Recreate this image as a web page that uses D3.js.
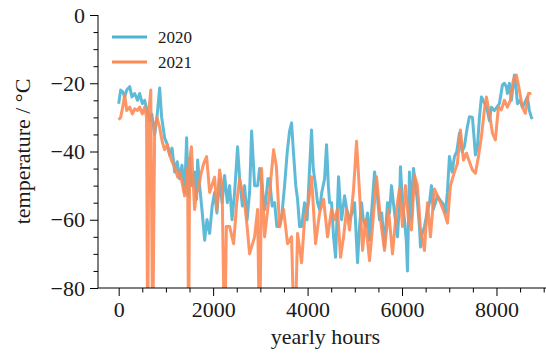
<!DOCTYPE html>
<html>
<head>
<meta charset="utf-8">
<script src="https://cdn.jsdelivr.net/npm/d3@7"></script>
<style>
  body { margin: 0; background: #fff; }
  svg text { font-family: "Liberation Serif", "DejaVu Serif", serif; fill: #1a1a1a; }
</style>
</head>
<body>
<div id="chart"></div>
<script>
// yearly hour / temperature pairs
var hours2020 = [0,21,42,85,127,170,233,280,339,400,444,500,550,600,656,700,762,810,868,910,973,1030,1079,1130,1185,1240,1291,1340,1397,1439,1470,1503,1550,1608,1650,1672,1714,1770,1820,1870,1926,1980,2031,2080,2137,2190,2243,2300,2349,2400,2455,2518,2561,2620,2667,2720,2772,2815,2878,2942,2984,3026,3090,3111,3160,3196,3250,3302,3350,3407,3460,3513,3570,3619,3661,3700,3750,3788,3831,3873,3936,3990,4042,4084,4120,4169,4210,4254,4300,4360,4402,4440,4466,4508,4550,4593,4656,4690,4720,4783,4830,4889,4940,4995,5020,5058,5100,5142,5180,5227,5270,5312,5370,5418,5470,5524,5570,5629,5693,5735,5777,5841,5904,5946,5967,6010,6052,6090,6115,6158,6200,6242,6290,6327,6369,6391,6430,6475,6530,6581,6623,6660,6708,6750,6793,6850,6898,6920,6960,7004,7060,7110,7160,7216,7270,7321,7380,7427,7491,7520,7554,7597,7639,7681,7745,7808,7850,7893,7956,8010,8062,8126,8168,8210,8231,8274,8316,8379,8420,8443,8500,8550,8591,8655,8697,8739,8760];
var temp2020 = [-26,-24,-22,-22.5,-24,-22,-21,-24,-23,-25,-23,-26,-25,-28,-31,-29,-35,-30,-21.4,-30,-36,-38,-41,-39,-46,-43,-48,-44,-52,-36,-53,-42,-50,-46,-54,-42.5,-50,-58,-66,-60,-64,-56,-52,-58,-48,-55,-47,-55,-50,-60,-52,-38.6,-48,-56,-50,-60,-52,-34,-50,-50,-45,-49,-57,-55,-48,-48,-56,-55,-62,-62,-58,-50,-40,-34,-31.6,-40,-50,-54,-62,-62,-55,-60,-45,-33.7,-45,-50,-55,-57,-52,-48,-38,-50,-55,-55,-65,-71,-47.4,-55,-60,-53,-57,-60,-58,-55,-62,-72.6,-62,-55,-60,-62,-58,-66,-55,-46,-52,-60,-58,-68,-55,-58,-50,-58,-65,-55,-44.5,-55,-60,-66,-75,-46,-60,-45,-50,-55,-62,-68,-64,-62,-58,-55,-50,-57,-55,-53,-54,-55,-56,-58,-52,-41.5,-46,-41.5,-40,-34.6,-40,-38.5,-33,-29.8,-30,-35,-41,-38.6,-30,-24,-25.8,-28,-31,-27,-28,-27,-26,-20.5,-20,-21,-23,-20,-25,-17.6,-22,-26,-25,-27,-26,-24,-28,-30,-30.5];

var hours2021 = [0,42,85,127,170,233,290,339,400,444,500,550,590,640,680,762,810,868,920,973,1030,1079,1130,1185,1250,1291,1340,1397,1439,1460,1503,1540,1608,1650,1692,1735,1800,1862,1926,2031,2080,2137,2190,2280,2349,2434,2500,2561,2667,2720,2772,2878,2942,3026,3090,3196,3280,3340,3407,3492,3576,3661,3788,3873,3936,4020,4084,4169,4254,4339,4423,4508,4571,4635,4698,4762,4825,4889,4974,5037,5100,5164,5227,5312,5376,5460,5545,5629,5714,5798,5883,5946,6010,6073,6137,6200,6264,6327,6391,6475,6539,6602,6687,6750,6814,6898,6962,7025,7110,7173,7237,7300,7364,7427,7491,7554,7618,7681,7745,7787,7850,7914,7977,8041,8104,8168,8231,8295,8358,8422,8485,8549,8612,8676,8739];
var temp2021 = [-30.7,-30,-27,-23.4,-28,-27,-29,-27.5,-28,-27,-29,-27,-30,-28,-22,-33,-30,-33,-37,-39.5,-38,-41,-43,-44.5,-47.5,-46,-49,-53,-48,-45,-42.5,-38.6,-57,-52,-51,-47,-43.5,-41.5,-52,-47.5,-57,-45.4,-50,-62,-62,-67,-55,-48,-55,-62,-70,-65,-57,-45,-65,-52,-39.5,-44.5,-62,-57,-67,-65,-64,-72.6,-60,-55,-47.4,-67,-58,-54,-65,-57,-60,-57,-71,-65,-57,-63,-51,-37,-52,-69,-60,-72,-62,-47.4,-60,-69,-57,-70,-57,-51,-62,-50,-60,-63,-47,-50,-63,-69,-55,-65,-51,-53,-55,-58,-61,-50,-46,-43.5,-33.7,-42.5,-40.5,-43,-45.4,-46.4,-41.5,-35.7,-27.8,-24,-28.8,-34.6,-36.6,-26.9,-27.8,-25,-27,-25,-19,-17.6,-22,-27,-28.8,-23,-23];

// sensor dropouts in 2021 (single readings far below the axis)
var dropHours2021 = [614,720,1481,2243,2984,3725];
var dropValue = -99;

var years = ["2020","2021"];
var colors = ["#4eb3d3","#fd8a55"];

var yTicks = [0,-20,-40,-60,-80];
var xTicks = [0,2000,4000,6000,8000];

var width = 546, height = 353;
var margin = { top: 15, right: -7, bottom: 65, left: 98 };

var svg = d3.select("#chart").append("svg")
    .attr("width", width)
    .attr("height", height);

var x = d3.scaleLinear()
    .domain([-438, 9197])
    .range([margin.left, width - margin.right]);

var y = d3.scaleLinear()
    .domain([-80, 0])
    .range([height - margin.bottom, margin.top]);

function pairs(hs, ts) {
    return hs.map(function(h, i) { return { h: h, t: ts[i] }; });
}

var series2020 = pairs(hours2020, temp2020);
var series2021 = pairs(hours2021, temp2021)
    .concat(dropHours2021.map(function(h) { return { h: h, t: dropValue }; }))
    .sort(function(a, b) { return a.h - b.h; });

svg.append("clipPath").attr("id", "plotClip")
    .append("rect")
    .attr("x", margin.left)
    .attr("y", margin.top)
    .attr("width", width - margin.left)
    .attr("height", y(-80) - margin.top);

var line = d3.line()
    .x(function(d) { return x(d.h); })
    .y(function(d) { return y(d.t); });

var plot = svg.append("g").attr("clip-path", "url(#plotClip)");

[series2020, series2021].forEach(function(s, i) {
    plot.append("path")
        .datum(s)
        .attr("fill", "none")
        .attr("stroke", colors[i])
        .attr("stroke-width", 3)
        .attr("stroke-opacity", 0.9)
        .attr("stroke-linejoin", "round")
        .attr("d", line);
});

// axes
var xAxis = svg.append("g")
    .attr("transform", `translate(0, ${y(-80)})`)
    .call(d3.axisBottom(x).tickValues(xTicks).tickFormat(d3.format("d")).tickSize(8).tickPadding(5));

svg.append("g")
    .attr("transform", `translate(0, ${y(-80)})`)
    .call(d3.axisBottom(x).tickValues(d3.range(500, 9200, 500).filter(function(v){ return v % 2000 !== 0; })).tickFormat("").tickSize(4.5))
    .select(".domain").remove();

var yAxis = svg.append("g")
    .attr("transform", `translate(${margin.left}, 0)`)
    .call(d3.axisLeft(y).tickValues(yTicks).tickFormat(d3.format("d")).tickSize(8).tickPadding(5));

svg.append("g")
    .attr("transform", `translate(${margin.left}, 0)`)
    .call(d3.axisLeft(y).tickValues(d3.range(-75, 0, 5).filter(function(v){ return v % 20 !== 0; })).tickFormat("").tickSize(4.5))
    .select(".domain").remove();

svg.selectAll(".domain, .tick line").attr("stroke", "#000").attr("stroke-width", 1);

xAxis.selectAll("text").attr("font-size", 22).style("font-family", "Liberation Serif, serif");
yAxis.selectAll("text").attr("font-size", 22).style("font-family", "Liberation Serif, serif");

// plain spines without end caps
xAxis.select(".domain").attr("d", `M${margin.left},0H${width}`);
yAxis.select(".domain").attr("d", `M0,${y(-80)}V${margin.top}`);

// labels
svg.append("text")
    .attr("x", (margin.left + width - margin.right) / 2)
    .attr("y", 344)
    .attr("text-anchor", "middle")
    .attr("font-size", 22)
    .text("yearly hours");

svg.append("text")
    .attr("transform", `translate(30, ${(y(0) + y(-80)) / 2}) rotate(-90)`)
    .attr("text-anchor", "middle")
    .attr("font-size", 22)
    .text("temperature / °C");

// legend
var legend = svg.append("g");
years.forEach(function(yr, i) {
    legend.append("line")
        .attr("x1", 112).attr("x2", 147)
        .attr("y1", 37 + i * 25).attr("y2", 37 + i * 25)
        .attr("stroke", colors[i])
        .attr("stroke-width", 3);
    legend.append("text")
        .attr("x", 158)
        .attr("y", 43 + i * 25)
        .attr("font-size", 17)
        .text(yr);
});
</script>
</body>
</html>
